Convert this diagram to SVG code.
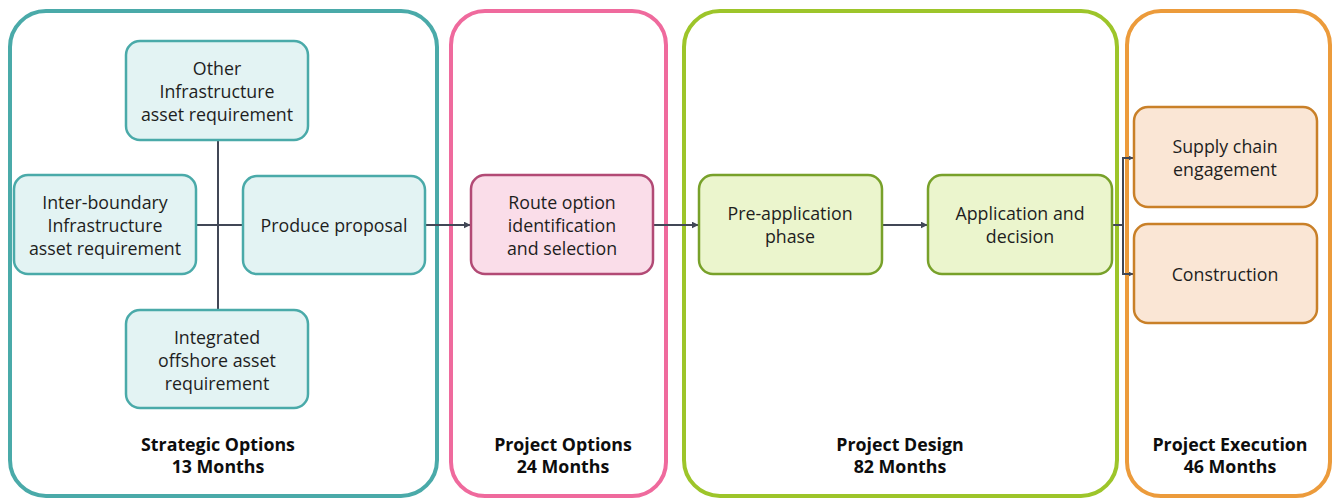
<svg xmlns="http://www.w3.org/2000/svg" width="1335" height="499" viewBox="0 0 1335 499">
<defs>
<style>
text{font-family:"Open Sans","Noto Sans","Liberation Sans",sans-serif;font-size:17.8px;fill:#1e1e1e;text-anchor:middle}
.title{font-weight:bold;font-size:17.8px;fill:#0d0d0d}
.cont{fill:#fff;stroke-width:4}
.n{stroke-width:2.5}
.teal{fill:#e3f3f3;stroke:#4aaaa9}
.pink{fill:#fadde9;stroke:#b24a75}
.green{fill:#ebf5cd;stroke:#78a12a}
.orange{fill:#fae6d5;stroke:#c98028}
.c{fill:none;stroke:#414756;stroke-width:2}
</style>
<marker id="ah" viewBox="0 0 10 10" refX="9" refY="5" markerWidth="5" markerHeight="5" orient="auto" markerUnits="userSpaceOnUse"><path d="M0,0L10,5L0,10z" fill="#414756"/></marker>
<marker id="ah2" viewBox="0 0 10 10" refX="9" refY="5" markerWidth="7" markerHeight="7" orient="auto" markerUnits="userSpaceOnUse"><path d="M0,0L10,5L0,10z" fill="#414756"/></marker>
</defs>
<g id="containers">
<rect class="cont" x="10" y="11" width="427" height="485" rx="36" stroke="#4aaaa9"/>
<rect class="cont" x="451" y="11" width="215" height="485" rx="34" stroke="#ef6a9d"/>
<rect class="cont" x="684" y="11" width="433" height="485" rx="36" stroke="#9dc52a"/>
<rect class="cont" x="1127" y="11" width="203" height="485" rx="34" stroke="#ec9b3b"/>
</g>
<g id="connectors">
<line class="c" x1="218" y1="140" x2="218" y2="310"/>
<line class="c" x1="196" y1="225" x2="243" y2="225"/>
<line class="c" x1="425" y1="225" x2="470" y2="225" marker-end="url(#ah2)"/>
<line class="c" x1="653" y1="225" x2="698" y2="225" marker-end="url(#ah2)"/>
<line class="c" x1="882" y1="225" x2="927" y2="225" marker-end="url(#ah2)"/>
<polyline class="c" points="1112,225 1123,225"/>
<polyline class="c" points="1133,158 1123,158 1123,274 1133,274"/>
<line class="c" x1="1123" y1="158" x2="1133" y2="158" marker-end="url(#ah)"/>
<line class="c" x1="1123" y1="274" x2="1133" y2="274" marker-end="url(#ah)"/>
</g>
<g id="other-infra">
<rect class="n teal" x="126" y="41" width="182" height="99" rx="14"/>
<text x="217" y="75">Other</text><text x="217" y="98">Infrastructure</text><text x="217" y="121">asset requirement</text>
</g>
<g id="inter-boundary">
<rect class="n teal" x="14" y="175" width="182" height="99" rx="14"/>
<text x="105" y="209">Inter-boundary</text><text x="105" y="232">Infrastructure</text><text x="105" y="255">asset requirement</text>
</g>
<g id="produce-proposal">
<rect class="n teal" x="243" y="176" width="182" height="98" rx="14"/>
<text x="334" y="232">Produce proposal</text>
</g>
<g id="integrated-offshore">
<rect class="n teal" x="126" y="310" width="182" height="98" rx="14"/>
<text x="217" y="344">Integrated</text><text x="217" y="367">offshore asset</text><text x="217" y="390">requirement</text>
</g>
<g id="strategic-title">
<text class="title" x="218" y="451">Strategic Options</text><text class="title" x="218" y="473">13 Months</text>
</g>
<g id="route-option">
<rect class="n pink" x="471" y="175" width="182" height="99" rx="14"/>
<text x="562" y="209">Route option</text><text x="562" y="232">identification</text><text x="562" y="255">and selection</text>
</g>
<g id="project-options-title">
<text class="title" x="563" y="451">Project Options</text><text class="title" x="563" y="473">24 Months</text>
</g>
<g id="pre-application">
<rect class="n green" x="699" y="175" width="183" height="99" rx="14"/>
<text x="790" y="220">Pre-application</text><text x="790" y="243">phase</text>
</g>
<g id="application-decision">
<rect class="n green" x="928" y="175" width="184" height="99" rx="14"/>
<text x="1020" y="220">Application and</text><text x="1020" y="243">decision</text>
</g>
<g id="project-design-title">
<text class="title" x="900" y="451">Project Design</text><text class="title" x="900" y="473">82 Months</text>
</g>
<g id="supply-chain">
<rect class="n orange" x="1134" y="107" width="183" height="100" rx="14"/>
<text x="1225" y="153">Supply chain</text><text x="1225" y="176">engagement</text>
</g>
<g id="construction">
<rect class="n orange" x="1134" y="224" width="183" height="99" rx="14"/>
<text x="1225" y="281">Construction</text>
</g>
<g id="project-execution-title">
<text class="title" x="1230" y="451">Project Execution</text><text class="title" x="1230" y="473">46 Months</text>
</g>
</svg>
